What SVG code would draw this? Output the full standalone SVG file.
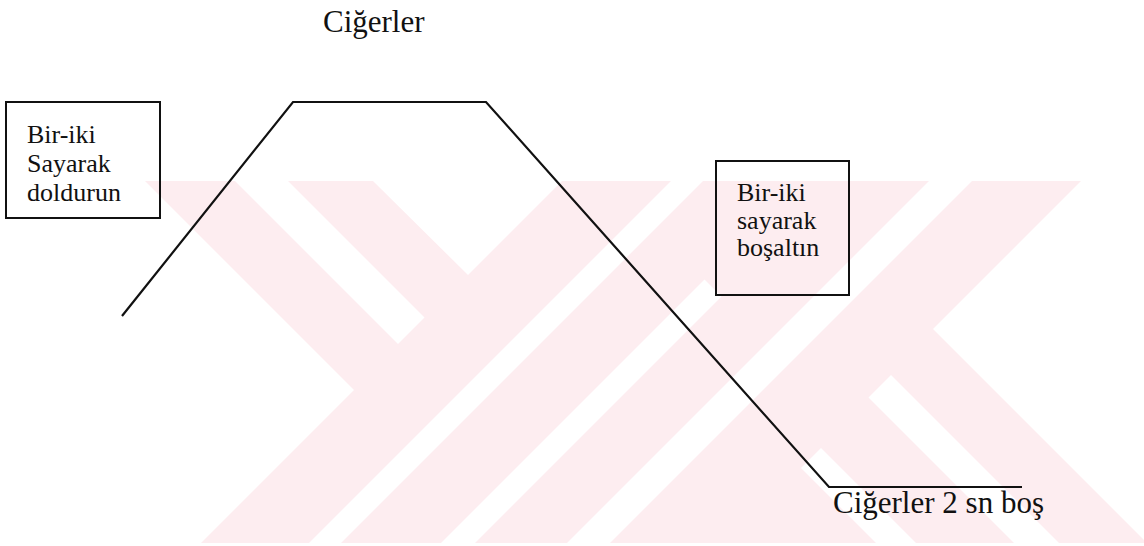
<svg xmlns="http://www.w3.org/2000/svg" width="1144" height="546" viewBox="0 0 1144 546">
  <style>
    .txt { font-family: "Liberation Serif", "Times New Roman", serif; fill: #111; }
    .big { font-size: 31px; }
    .small { font-size: 26px; }
    .box { fill: none; stroke: #111; stroke-width: 2; }
    .curve { fill: none; stroke: #111; stroke-width: 2.2; stroke-linejoin: miter; }
    .wm { fill: #fdedf0; }
    .gap { fill: #ffffff; }
  </style>

  <rect width="1144" height="546" fill="#ffffff"/>

  <!-- faint background emblem: pink field with diagonal white bands cut into it -->
  <g id="watermark">
    <polygon class="wm" points="145,181 1081,181 933,329 1144,540 1144,543 201,543 354,390"/>
    <polygon class="gap" points="235,181 288,181 424.5,317.5 398,344"/>
    <polygon class="gap" points="373,181 562,181 468,275"/>
    <polygon class="gap" points="671,181 703,181 341,543 309,543"/>
    <polygon class="gap" points="704.5,279.5 721.5,296.5 475,543 441,543"/>
    <polygon class="gap" points="929,181 972,181 610,543 567,543"/>
    <polygon class="gap" points="891,375 868.5,397.5 1014,543 1059,543"/>
    <polygon class="gap" points="821,448 801,468 876,543 916,543"/>
  </g>

  <!-- breathing cycle: fill, hold, empty, pause -->
  <g id="connectors">
    <polyline class="curve" points="122,316 293,102 486,102 829,487 1022,487"/>
  </g>

  <g id="title-lungs" font-family="Liberation Serif, serif">
    <text class="txt big" x="323" y="32">Ciğerler</text>
  </g>

  <g id="box-inhale" font-family="Liberation Serif, serif">
    <rect class="box" x="6" y="102" width="154" height="116"/>
    <text class="txt small" x="27" y="143">Bir-iki</text>
    <text class="txt small" x="27" y="172">Sayarak</text>
    <text class="txt small" x="27" y="201">doldurun</text>
  </g>

  <g id="box-exhale" font-family="Liberation Serif, serif">
    <rect class="box" x="716" y="161" width="133" height="134"/>
    <text class="txt small" x="737" y="201">Bir-iki</text>
    <text class="txt small" x="737" y="229">sayarak</text>
    <text class="txt small" x="737" y="256">boşaltın</text>
  </g>

  <g id="label-empty" font-family="Liberation Serif, serif">
    <text class="txt big" x="833" y="513">Ciğerler 2 sn boş</text>
  </g>
</svg>
